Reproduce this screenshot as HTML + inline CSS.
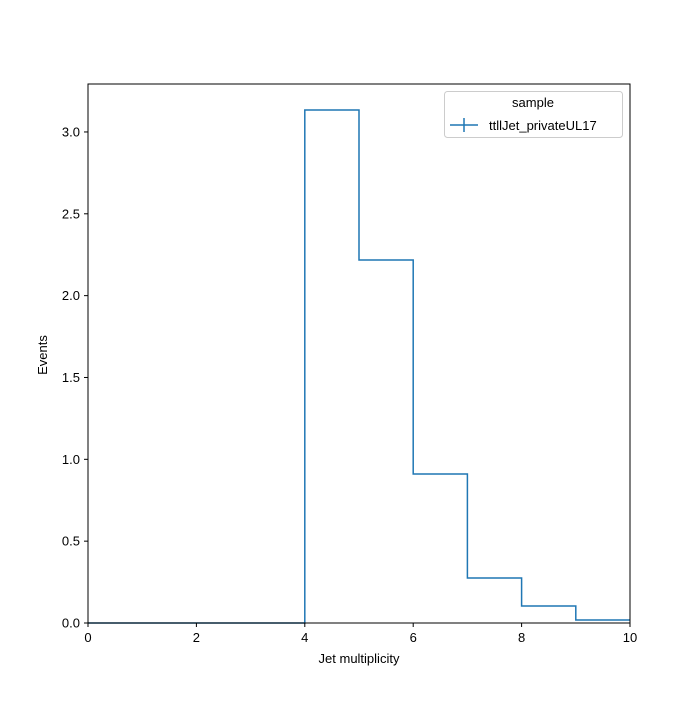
<!DOCTYPE html>
<html><head><meta charset="utf-8"><style>
body{margin:0;background:#fff;}
svg text{font-family:"Liberation Sans","DejaVu Sans",sans-serif;font-size:13px;fill:#000;}
</style></head><body>
<svg id="chart" width="700" height="700" xmlns="http://www.w3.org/2000/svg">
<rect width="700" height="700" fill="#fff"/>
<g id="marks"></g>
<rect x="88" y="84" width="542" height="539" fill="none" stroke="#000" stroke-width="1"/>
<g id="xticks"></g><g id="yticks"></g>
<text x="359" y="663" text-anchor="middle">Jet multiplicity</text>
<text transform="translate(47,355) rotate(-90)" text-anchor="middle">Events</text>
<g>
<rect x="444.5" y="91.5" width="178" height="46" rx="3" fill="#fff" stroke="#ccc"/>
<text x="533" y="107" text-anchor="middle">sample</text>
<g>
<line x1="450" y1="125" x2="478" y2="125" stroke="#1f77b4" stroke-width="1.5"/>
<line x1="464" y1="118" x2="464" y2="132" stroke="#1f77b4" stroke-width="1.5"/>
<text x="489" y="130">ttllJet_privateUL17</text>
</g>
</g>
</svg>
<script>
const binEdges=[0,1,2,3,4,5,6,7,8,9,10];
const counts=[0,0,0,0,3.134,2.218,0.910,0.275,0.104,0.018];
const xTickLabels=["0","2","4","6","8","10"];
const yTickLabels=["0.0","0.5","1.0","1.5","2.0","2.5","3.0"];
const X0=88,X1=630,Y0=623,Y1=84,xMin=0,xMax=10,yMin=0,yMax=3.293;
const sx=v=>X0+(v-xMin)/(xMax-xMin)*(X1-X0);
const sy=v=>Y0-(v-yMin)/(yMax-yMin)*(Y0-Y1);
const NS="http://www.w3.org/2000/svg";
let d="M"+sx(binEdges[0])+","+sy(counts[0]);
for(let i=0;i<counts.length;i++){
  d+=" L"+sx(binEdges[i])+","+sy(counts[i])+" L"+sx(binEdges[i+1])+","+sy(counts[i]);
}
const p=document.createElementNS(NS,"path");
p.setAttribute("d",d);p.setAttribute("fill","none");p.setAttribute("stroke","#1f77b4");p.setAttribute("stroke-width","1.5");


document.getElementById("marks").appendChild(p);
const xt=document.getElementById("xticks");
xTickLabels.forEach(l=>{
  const x=sx(parseFloat(l));
  const ln=document.createElementNS(NS,"line");
  ln.setAttribute("x1",x);ln.setAttribute("x2",x);ln.setAttribute("y1",623);ln.setAttribute("y2",627);ln.setAttribute("stroke","#000");
  
  
  xt.appendChild(ln);
  const t=document.createElementNS(NS,"text");
  t.setAttribute("x",x);t.setAttribute("y",642);t.setAttribute("text-anchor","middle");t.textContent=l;
  
  
  xt.appendChild(t);
});
const yt=document.getElementById("yticks");
yTickLabels.forEach(l=>{
  const y=sy(parseFloat(l));
  const ln=document.createElementNS(NS,"line");
  ln.setAttribute("x1",84);ln.setAttribute("x2",88);ln.setAttribute("y1",y);ln.setAttribute("y2",y);ln.setAttribute("stroke","#000");
  
  
  yt.appendChild(ln);
  const t=document.createElementNS(NS,"text");
  t.setAttribute("x",80);t.setAttribute("y",y+4.5);t.setAttribute("text-anchor","end");t.textContent=l;
  
  
  yt.appendChild(t);
});
</script>
</body></html>
